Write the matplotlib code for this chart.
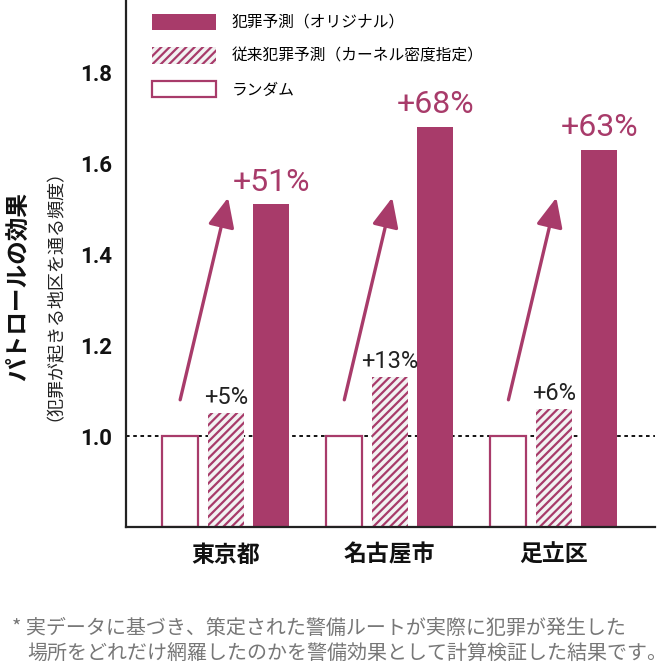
import matplotlib
matplotlib.use("Agg")
import matplotlib.pyplot as plt
from matplotlib.patches import Patch
from matplotlib.patches import ArrowStyle
import numpy as np

plt.rcParams['font.family'] = ['Noto Sans CJK JP', 'DejaVu Sans']
plt.rcParams['hatch.linewidth'] = 1.6

# ---- data ----
regions = ["東京都", "名古屋市", "足立区"]
random_vals = [1.0, 1.0, 1.0]
kernel_vals = [1.05, 1.13, 1.06]
original_vals = [1.51, 1.68, 1.63]
kernel_labels = ["+5%", "+13%", "+6%"]
original_labels = ["+51%", "+68%", "+63%"]
yticks = [1.0, 1.2, 1.4, 1.6, 1.8]
legend_labels = ["犯罪予測（オリジナル）", "従来犯罪予測（カーネル密度指定）", "ランダム"]

PINK = "#A83B6A"
GRID_BG = "#F2F2F2"
DARK = "#222222"

fig = plt.figure(figsize=(6.66, 6.70), dpi=100)
ax = fig.add_axes([126/666, 1-527/670, (655-126)/666, 527/670])

x = np.arange(len(regions))
w = 0.22
off = 0.277
base = 0.8

ax.axhline(1.0, color="black", lw=1.3, linestyle=(0, (2, 2)), zorder=1)

ax.bar(x - off, np.array(random_vals) - base, w, bottom=base, facecolor="white",
       edgecolor=PINK, linewidth=1.6, zorder=2)
ax.bar(x, np.array(kernel_vals) - base, w, bottom=base, facecolor=GRID_BG,
       edgecolor=PINK, linewidth=0, hatch="////", zorder=2)
ax.bar(x + off, np.array(original_vals) - base, w, bottom=base, facecolor=PINK,
       edgecolor=PINK, linewidth=0, zorder=2)

for i in range(len(regions)):
    ax.annotate(kernel_labels[i], xy=(x[i], kernel_vals[i]), xytext=(0, 6.5),
                textcoords="offset points", ha="center", va="baseline",
                fontsize=17, family=["Roboto", "DejaVu Sans"], color="#222222")
    ax.annotate(original_labels[i], xy=(x[i] + off, original_vals[i]), xytext=(0, 10),
                textcoords="offset points", ha="center", va="baseline",
                fontsize=23, family=["Roboto", "DejaVu Sans"], color=PINK)
    ax.annotate("", xy=(x[i] + 0.015, 1.525), xytext=(x[i] - off, 1.08),
                arrowprops=dict(arrowstyle=ArrowStyle("-|>", head_length=1.0, head_width=0.45),
                                mutation_scale=18, color=PINK, lw=2.4,
                                shrinkA=0, shrinkB=0), zorder=3)

ax.set_xlim(-0.607, 2.616)
ax.set_ylim(base, 1.96)
ax.set_yticks(yticks)
ax.set_yticklabels([f"{v:.1f}" for v in yticks], family=["Roboto", "DejaVu Sans"],
                   fontweight="bold", fontsize=16)
ax.set_xticks(x)
ax.set_xticklabels(regions, fontweight="bold", fontsize=16.5)
ax.tick_params(axis="y", length=0, pad=10, colors="#111111")
ax.tick_params(axis="x", length=0, pad=12, colors="#111111")
for s in ["top", "right"]:
    ax.spines[s].set_visible(False)
for s in ["left", "bottom"]:
    ax.spines[s].set_color(DARK)
    ax.spines[s].set_linewidth(1.6)

handles = [Patch(facecolor=PINK, edgecolor=PINK, linewidth=0),
           Patch(facecolor=GRID_BG, edgecolor=PINK, linewidth=0, hatch="////"),
           Patch(facecolor="white", edgecolor=PINK, linewidth=1.6)]
leg = ax.legend(handles, legend_labels, loc="upper left", bbox_to_anchor=(24/666 * 666/529 - 7/529, 1 - 5/527),
                bbox_transform=ax.transAxes, frameon=False, fontsize=11.3,
                handlelength=4.1, handleheight=1.2, handletextpad=1.0,
                labelspacing=1.05, borderaxespad=0, borderpad=0.55)

fig.text(18/666, 1-286/670, "パトロールの効果", rotation=90, ha="center", va="center",
         fontsize=17, fontweight="bold", color="#111111")
fig.text(46/666, 1-286/670, "（犯罪が起きる地区を通る頻度）", rotation=90, ha="center", va="center",
         fontsize=13, color="#222222")

fig.text(12/666, 1-628/670, "* 実データに基づき、策定された警備ルートが実際に犯罪が発生した",
         ha="left", va="center", fontsize=14.4, color="#777777")
fig.text(27/666, 1-654/670, "場所をどれだけ網羅したのかを警備効果として計算検証した結果です。",
         ha="left", va="center", fontsize=14.4, color="#777777")

fig.savefig("out.png", dpi=100)
